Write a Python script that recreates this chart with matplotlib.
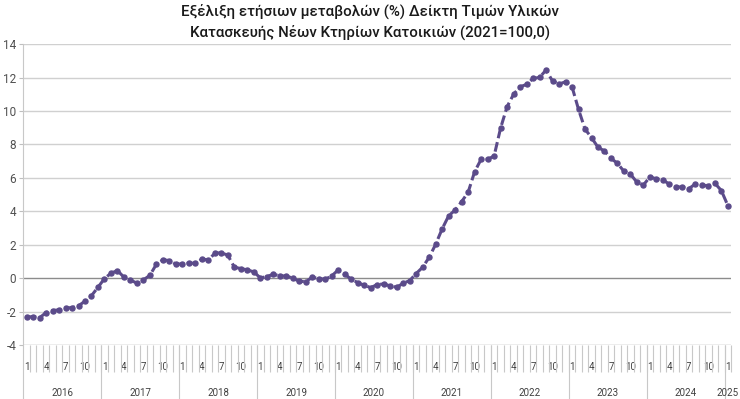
import numpy as np
import matplotlib
matplotlib.use("Agg")
from matplotlib import pyplot as plt


# Annual change (%) of the index, Jan 2016 - Jan 2025
values_2016 = [-2.33, -2.29, -2.37, -2.05, -1.93, -1.89, -1.79, -1.75, -1.65, -1.37, -1.04, -0.54]
values_2017 = [-0.02, 0.30, 0.46, 0.06, -0.10, -0.30, -0.10, 0.18, 0.84, 1.10, 1.06, 0.84]
values_2018 = [0.86, 0.90, 0.90, 1.14, 1.10, 1.49, 1.53, 1.37, 0.66, 0.58, 0.50, 0.38]
values_2019 = [0.02, 0.10, 0.24, 0.14, 0.14, 0.00, -0.18, -0.20, 0.06, -0.02, -0.06, 0.14]
values_2020 = [0.50, 0.24, -0.06, -0.26, -0.42, -0.56, -0.38, -0.34, -0.46, -0.54, -0.30, -0.14]
values_2021 = [0.28, 0.66, 1.25, 2.03, 2.95, 3.73, 4.08, 4.58, 5.14, 6.37, 7.11, 7.11]
values_2022 = [7.31, 8.98, 10.26, 11.00, 11.45, 11.59, 11.95, 12.01, 12.45, 11.79, 11.61, 11.75]
values_2023 = [11.45, 10.10, 8.92, 8.41, 7.83, 7.61, 7.17, 6.87, 6.39, 6.22, 5.74, 5.58]
values_2024 = [6.06, 5.94, 5.88, 5.62, 5.48, 5.44, 5.36, 5.64, 5.56, 5.54, 5.68, 5.24]
values_2025 = [4.34]

years = [2016, 2017, 2018, 2019, 2020, 2021, 2022, 2023, 2024, 2025]
months_per_year = [12, 12, 12, 12, 12, 12, 12, 12, 12, 1]
shown_months = [1, 4, 7, 10]

title = "Εξέλιξη ετήσιων μεταβολών (%) Δείκτη Τιμών Υλικών\nΚατασκευής Νέων Κτηρίων Κατοικιών (2021=100,0)"

values = (values_2016 + values_2017 + values_2018 + values_2019 + values_2020
          + values_2021 + values_2022 + values_2023 + values_2024 + values_2025)
month_numbers = [m for n in months_per_year for m in range(1, n + 1)]

plt.rcParams["font.family"] = ["Roboto", "DejaVu Sans"]

fig = plt.figure(figsize=(7.4, 3.99), dpi=100)
ax = fig.add_axes([0.0315, 0.135, 0.9565, 0.7544])

n = len(values)
x = np.arange(n) + 0.5

ax.plot(x, values, color="#5b4b8a", lw=2.2, ls=(0, (3.2, 1.3)),
        marker="o", ms=3.6, zorder=3)

ax.set_xlim(0, n)
ax.set_ylim(-4, 14)

# Grid
yticks = np.arange(-4, 15, 2)
ax.set_yticks(yticks)
ax.set_yticklabels([str(v) for v in yticks])
for v in yticks:
    color = "#8c8c8c" if v == 0 else "#d0d0d0"
    if v == -4:
        color = "#a6a6a6"
    ax.axhline(v, color=color, lw=1, zorder=1)

for side in ["top", "right", "bottom"]:
    ax.spines[side].set_visible(False)
ax.spines["left"].set_color("#c8c8c8")

ax.tick_params(axis="y", length=3, color="#bfbfbf", labelsize=8.5, labelcolor="#505050", pad=2)

# Month level of the category axis
month_labels = [str(m) if m in shown_months else "" for m in month_numbers]
ax.set_xticks(x)
ax.set_xticklabels(month_labels)
ax.set_xticks(np.arange(1, n + 1), minor=True)
ax.tick_params(axis="x", which="major", length=0, pad=12, labelsize=7, labelcolor="#404040")
ax.tick_params(axis="x", which="minor", length=19.5, color="#c8c8c8", width=0.8)

# Year level of the category axis
bounds = np.cumsum([0] + months_per_year[:-1])
centers = bounds + np.array(months_per_year) / 2
sec = ax.secondary_xaxis("bottom")
sec.spines["bottom"].set_visible(False)
sec.set_xticks(bounds, labels=[""] * len(bounds))
sec.set_xticks(centers, labels=[str(y) for y in years], minor=True)
sec.tick_params(axis="x", which="major", length=39, color="#c8c8c8", width=0.8)
sec.tick_params(axis="x", which="minor", length=0, pad=31, labelsize=7, labelcolor="#404040")

fig.suptitle(title, y=0.99, fontsize=10.8, fontweight="medium", color="#1a1a1a", linespacing=1.45)

fig.savefig("out.png", dpi=100)
